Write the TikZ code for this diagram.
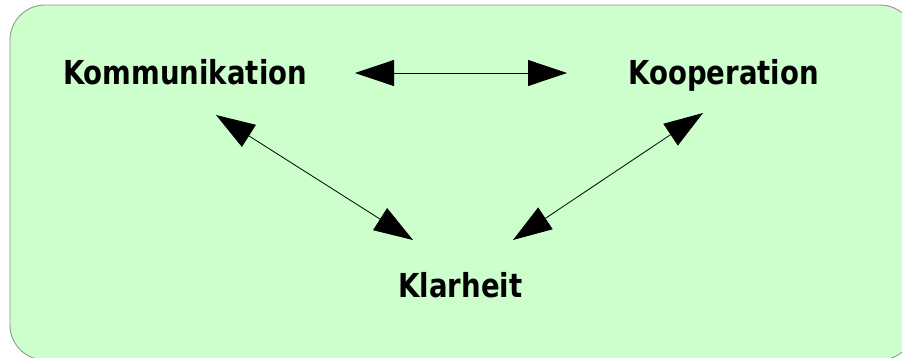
\documentclass[tikz,border=0pt]{standalone}
\usepackage{fontspec}
\usetikzlibrary{arrows.meta}
\newfontfamily\labfont[FakeStretch=0.835]{DejaVu Sans}
\definecolor{panelfill}{RGB}{204,255,204}
\definecolor{panelborder}{RGB}{150,150,150}
\tikzset{
  lab/.style={inner sep=0pt, anchor=base, font=\labfont\bfseries\fontsize{33}{40}\selectfont, text=black},
  link/.style={line width=0.8pt, draw=black, {Triangle[length=39pt,width=26pt]}-{Triangle[length=39pt,width=26pt]}},
  panel/.style={fill=panelfill, draw=panelborder, line width=0.9pt, rounded corners=35pt}
}
\begin{document}
\begin{tikzpicture}[x=1pt,y=-1pt]
\useasboundingbox (0,0) rectangle (902,357);
\path[panel] (10,5) rectangle (915,360);
\node[lab] (komm) at (185,84) {Kommunikation};
\node[lab] (koop) at (723.5,84) {Kooperation};
\node[lab] (klar) at (460.5,297) {Klarheit};
\coordinate (kommR) at (355,73);
\coordinate (koopL) at (567,73);
\coordinate (kommB) at (216,115);
\coordinate (klarL) at (413,240);
\coordinate (koopB) at (703,113);
\coordinate (klarR) at (513,240);
\draw[link] (kommR) -- (koopL);
\draw[link] (kommB) -- (klarL);
\draw[link] (koopB) -- (klarR);
\end{tikzpicture}
\end{document}
